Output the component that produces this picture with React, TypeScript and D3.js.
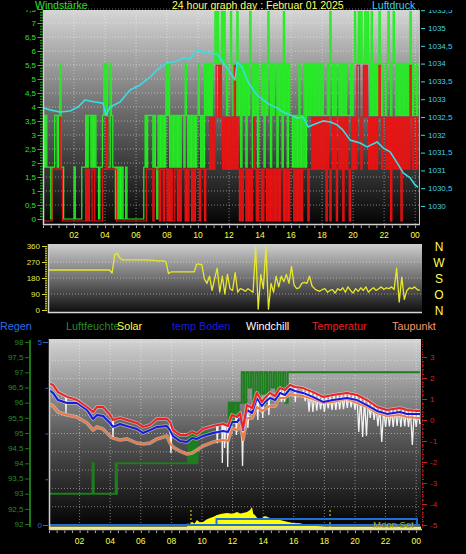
import React from "react";
import * as d3 from "d3";

// ================= DATA =================
// Wind (knots), 5-minute samples, one string of 12 samples per hour
const gustKnots: string[] = [
  "212111011221", "231100000000", "100000111212", "212121101123",
  "231132110101", "010010000000", "000000121222", "212102121213",
  "231212121212", "213212121212", "321213232323", "343432434323",
  "343232423132", "313243132313", "323132431323", "313231423132",
  "212121312131", "323232323232", "322232432323", "323232322232",
  "343343433434", "324232324323", "323432343232", "323232324323",
  "323",
];
const avgKnots: string[] = [
  "000000011111", "121000000000", "000000000101", "001100000011",
  "121111111000", "000000000000", "000000001111", "101111011011",
  "010100110101", "110101101011", "101110111212", "123323212121",
  "212131210101", "101010121010", "010110101010", "101011010101",
  "110101010111", "101121212121", "212021012120", "121202121012",
  "121332123232", "121212123212", "212120212121", "202121213212",
  "212",
];
const KNOT_TO_KMH = 1.852;
const WIND_STEP_H = 1 / 12;

// Pressure (hPa)
const pressTimes = [0.06, 0.45, 1.1, 1.74, 2.26, 2.71, 3.35, 3.87, 4.06, 4.32, 4.97, 5.61, 6.26, 6.9, 7.35, 8.0, 8.65, 9.03, 9.48, 9.94, 10.58, 11.23, 11.61, 12.06, 12.39, 12.52, 12.84, 13.16, 13.55, 13.81, 14.19, 14.65, 15.1, 15.48, 15.94, 16.39, 16.77, 17.1, 17.42, 18.06, 18.52, 18.97, 19.35, 19.81, 20.45, 20.9, 21.55, 21.94, 22.39, 22.84, 23.23, 23.68, 24.0, 24.19];
const pressValues = [1032.75, 1032.7, 1032.64, 1032.67, 1032.78, 1032.98, 1032.92, 1032.89, 1032.56, 1032.78, 1032.92, 1033.26, 1033.4, 1033.62, 1033.82, 1034.02, 1034.07, 1034.16, 1034.13, 1034.38, 1034.3, 1034.27, 1034.04, 1033.76, 1033.54, 1034.04, 1033.9, 1033.54, 1033.26, 1033.12, 1032.98, 1032.84, 1032.75, 1032.64, 1032.56, 1032.47, 1032.5, 1032.22, 1032.28, 1032.39, 1032.36, 1032.28, 1032.13, 1031.85, 1031.77, 1031.66, 1031.8, 1031.63, 1031.52, 1031.21, 1030.93, 1030.79, 1030.59, 1030.53];

// Wind direction (deg), 10-minute samples
const DIR_STEP_H = 1 / 6;
const windDirDeg = [
  225, 225, 225, 225, 225, 225,
  225, 225, 225, 225, 225, 225,
  225, 225, 225, 225, 225, 225,
  225, 225, 225, 225, 225, 225,
  225, 208, 310, 320, 292, 282,
  282, 282, 282, 282, 282, 282,
  282, 282, 282, 281, 281, 281,
  278, 276, 276, 276, 272, 205,
  214, 214, 214, 214, 214, 214,
  214, 214, 214, 214, 258, 258,
  255, 175, 150, 190, 110, 175,
  236, 100, 190, 90, 200, 120,
  110, 210, 100, 120, 115, 105,
  120, 110, 100, 355, 5, 200,
  120, 355, 5, 150, 100, 190,
  130, 190, 160, 200, 150, 245,
  140, 120, 125, 150, 155, 150,
  190, 135, 120, 110, 105, 115,
  120, 100, 110, 115, 95, 120,
  110, 125, 100, 130, 110, 95,
  120, 105, 125, 110, 130, 100,
  115, 125, 110, 120, 130, 115,
  125, 120, 130, 115, 235, 45,
  185, 60, 110, 125, 120, 130,
  115, 110,
];

// Temperatures (°C)
const tempTimes = [0, 0.26, 0.59, 1.18, 1.83, 2.48, 2.88, 3.14, 3.53, 3.99, 4.18, 4.64, 5.1, 5.75, 6.14, 6.6, 7.06, 7.71, 7.91, 8.1, 8.56, 9.02, 9.35, 9.67, 10.07, 10.72, 11.37, 11.7, 11.96, 12.29, 12.48, 12.68, 12.94, 13.27, 13.59, 13.92, 14.12, 14.44, 14.77, 15.1, 15.42, 15.75, 16.08, 16.6, 17.25, 17.91, 18.56, 19.48, 20.13, 20.78, 21.44, 22.09, 22.94, 23.4, 24.05, 24.25];
const tempValues = [1.76, 1.67, 1.33, 1.1, 0.95, 0.62, 0.38, 0.62, 0.62, 0.24, 0.0, 0.1, 0.0, -0.14, -0.33, -0.24, 0.05, 0.05, -0.1, -0.48, -0.71, -0.71, -0.57, -0.67, -0.43, -0.29, -0.19, -0.29, 0.24, 0.14, 0.33, -0.38, 0.71, 0.57, 1.29, 0.86, 1.05, 1.29, 1.14, 1.52, 1.43, 1.67, 1.57, 1.52, 1.33, 1.1, 1.19, 1.29, 1.19, 0.95, 0.62, 0.48, 0.57, 0.48, 0.43, 0.43];
const bodenValues = [1.43, 1.29, 0.95, 0.81, 0.81, 0.48, 0.05, 0.24, 0.19, -0.14, -0.33, -0.19, -0.29, -0.43, -0.62, -0.48, -0.33, -0.29, -0.48, -0.76, -1.0, -1.05, -0.86, -0.9, -0.76, -0.62, -0.52, -0.57, -0.1, -0.1, 0.1, -0.48, 0.48, 0.33, 1.05, 0.67, 0.86, 1.05, 0.95, 1.29, 1.19, 1.48, 1.38, 1.29, 1.1, 0.86, 0.95, 1.05, 0.95, 0.71, 0.43, 0.29, 0.38, 0.29, 0.29, 0.29];
const dewValues = [0.76, 0.67, 0.38, 0.24, 0.14, -0.14, -0.48, -0.33, -0.43, -0.76, -0.86, -0.95, -0.9, -1.1, -1.14, -1.1, -0.9, -0.76, -1.1, -1.29, -1.48, -1.62, -1.57, -1.43, -1.24, -1.05, -0.95, -1.0, -0.38, -0.48, -0.14, -0.95, 0.1, 0.1, 0.62, 0.43, 0.52, 0.67, 0.67, 1.05, 1.05, 1.24, 1.19, 1.14, 1.0, 0.81, 0.86, 1.0, 0.81, 0.62, 0.33, 0.19, 0.24, 0.14, 0.1, 0.1];

// Windchill (°C)
const chillTimes = [0, 0.26, 0.59, 1.08, 1.11, 1.15, 1.83, 2.48, 2.88, 3.14, 3.53, 3.99, 4.15, 4.18, 4.22, 4.64, 5.1, 5.75, 6.14, 6.6, 7.06, 7.71, 7.91, 7.97, 8.03, 8.1, 8.56, 9.02, 9.35, 9.67, 10.07, 10.72, 10.95, 11.0, 11.05, 11.3, 11.33, 11.37, 11.45, 11.48, 11.55, 11.65, 11.68, 11.72, 11.96, 12.2, 12.25, 12.3, 12.48, 12.6, 12.65, 12.7, 12.94, 13.0, 13.1, 13.27, 13.59, 13.65, 13.7, 13.92, 13.97, 14.02, 14.12, 14.33, 14.37, 14.44, 14.77, 15.1, 15.2, 15.3, 15.4, 15.5, 15.75, 16.05, 16.1, 16.15, 16.6,
  16.75, 16.875, 17.0, 17.125, 17.25, 17.375, 17.5, 17.625, 17.75, 17.875, 18.0, 18.125, 18.25, 18.375, 18.5, 18.625, 18.75, 18.875, 19.0, 19.125, 19.25, 19.375, 19.5, 19.625, 19.75, 19.875, 20.0, 20.125, 20.25, 20.375, 20.5, 20.625, 20.75, 20.875, 21.0, 21.125, 21.25, 21.375, 21.5, 21.625, 21.75, 21.875, 22.0, 22.125, 22.25, 22.375, 22.5, 22.625, 22.75, 22.875, 23.0, 23.125, 23.25, 23.375, 23.5, 23.625, 23.75, 23.875, 24.0, 24.125, 24.25];
const chillValues = [1.76, 1.67, 1.33, 1.13, 0.33, 1.1, 0.95, 0.62, 0.38, 0.62, 0.62, 0.24, 0.02, -0.86, 0.0, 0.1, 0.0, -0.14, -0.33, -0.24, 0.05, 0.05, -0.1, -1.57, -0.35, -0.48, -0.71, -0.71, -0.57, -0.67, -0.43, -0.29, -0.26, -1.1, -0.24, -0.2, -2.05, -0.19, -0.22, -1.33, -0.25, -0.28, -2.24, -0.29, 0.24, 0.16, -0.71, 0.15, 0.33, -0.2, -2.19, -0.38, 0.71, -0.38, 0.62, 0.57, 1.29, 0.0, 1.15, 0.86, 0.1, 0.9, 1.05, 1.25, 0.24, 1.29, 1.14, 1.52, 0.86, 1.48, 0.86, 1.45, 1.67, 1.57, 0.86, 1.57, 1.52,
  0.9, 1.5, 0.4, 1.42, 0.38, 1.3, 0.45, 1.22, 0.5, 1.12, 0.38, 1.12, 0.55, 1.15, 0.48, 1.2, 0.48, 1.22, 0.5, 1.25, 0.52, 1.28, 0.57, 1.28, 0.6, 1.24, 0.48, 1.19, -0.57, 1.12, -0.81, 1.02, -0.75, 0.92, 0.1, 0.8, 0.0, 0.66, -0.3, 0.6, -1.05, 0.52, -0.33, 0.48, -0.3, 0.5, -0.33, 0.54, -0.28, 0.57, -0.33, 0.52, -0.3, 0.48, -0.33, 0.46, -1.19, 0.44, -0.33, 0.43, -0.2];

// Humidity (%)
const humTimes = [0, 2.85, 2.92, 4.36, 4.4, 4.44, 4.48, 9.1, 9.2, 9.3, 9.4, 9.5, 9.6, 9.7, 11.75, 11.85, 11.95, 12.05, 12.15, 12.3, 12.4, 12.6, 12.75, 12.9, 13.05, 13.2, 13.35, 13.5, 13.65, 13.8, 13.95, 14.1, 14.25, 14.4, 14.55, 14.7, 14.85, 15.0, 15.15, 15.3, 15.45, 15.6, 24.25];
const humValues = [93, 94, 93, 94, 93, 94, 94, 95, 94, 95, 94, 95, 94, 95, 96, 95.3, 96, 95.5, 96, 95.2, 96, 97, 96, 97, 96.5, 97, 96, 97, 96, 97, 96.3, 97, 96, 97, 96.5, 97, 96, 97, 96.5, 97, 96, 97, 97];

// Solar (W/m²)
const solarTimes = [9.0, 9.08, 9.2, 9.35, 9.5, 9.67, 9.85, 10.07, 10.3, 10.52, 10.72, 10.98, 11.3, 11.63, 12.0, 12.29, 12.5, 12.68, 12.94, 13.14, 13.27, 13.35, 13.46, 13.66, 13.92, 14.12, 14.44, 15.1, 15.5, 15.95, 16.4, 16.86, 17.5, 18.17, 18.7, 19.3];
const solarValues = [0, 32, 20, 38, 28, 47, 35, 37, 50, 58, 63, 74, 80, 84, 80, 89, 82, 84, 90, 100, 116, 80, 74, 53, 58, 68, 58, 47, 40, 32, 30, 21, 16, 10, 5, 0];

// Rain (mm) and moon
const rainTimes = [0, 24.25];
const rainValues = [0, 0];
const moonTimes = [0, 10.95, 24.05, 24.25];
const moonUp = [0, 1, 0, 0];
const sunEvents = [9.28, 18.37];

// Ticks / labels
const windTicks = [0, 0.5, 1, 1.5, 2, 2.5, 3, 3.5, 4, 4.5, 5, 5.5, 6, 6.5, 7, 7.5];
const pressTicks = [1030, 1030.5, 1031, 1031.5, 1032, 1032.5, 1033, 1033.5, 1034, 1034.5, 1035, 1035.5];
const dirTicks = [0, 90, 180, 270, 360];
const dirLetters = ["N", "O", "S", "W", "N"];
const humTicks = [92, 92.5, 93, 93.5, 94, 94.5, 95, 95.5, 96, 96.5, 97, 97.5, 98];
const rainTicks = [0, 1.25, 2.5, 3.75, 5];
const rainLabels = ["0", "", "", "", "5"];
const tempTicks = [-5, -4, -3, -2, -1, 0, 1, 2, 3];
const hourTicks = [2, 4, 6, 8, 10, 12, 14, 16, 18, 20, 22, 24];
const hourLabels = ["02", "04", "06", "08", "10", "12", "14", "16", "18", "20", "22", "00"];
const legendLabels = ["Regen", "Luftfeuchte", "Solar", "temp Boden", "Windchill", "Temperatur", "Taupunkt"];
const titleText = "24 hour graph day : Februar 01 2025";

// ================= STYLE =================
const FONT = "'Liberation Sans', Arial, Helvetica, sans-serif";
const legendStyle = [
  { x: 0, color: "#2a6ee0" },
  { x: 66, color: "#2a8a2a" },
  { x: 117, color: "#ffff44" },
  { x: 172, color: "#1c1cd8" },
  { x: 246, color: "#ffffff" },
  { x: 312, color: "#e82020" },
  { x: 392, color: "#f49868" },
];
const fmt = (v: number) => String(v).replace(".", ",");
const GRID = { stroke: "#ffffff", strokeOpacity: 0.45, strokeDasharray: "1,2", strokeWidth: 1 };

export default function App() {
  // ---------- top chart ----------
  const xT = d3.scaleLinear().domain([0, 24.25]).range([43, 419]);
  const yW = d3.scaleLinear().domain([0, 7.5]).range([219, 9]);
  const yP = d3.scaleLinear().domain([1030, 1035.5]).range([206, 10.2]);
  const gust = gustKnots.join("").split("").map(Number);
  const avg = avgKnots.join("").split("").map(Number);
  const windLine = d3
    .line<number>()
    .x((_, i) => xT(i * WIND_STEP_H))
    .y((v) => yW(v * KNOT_TO_KMH))
    .curve(d3.curveStepAfter);
  const pressLine = d3
    .line<number>()
    .x((_, i) => xT(pressTimes[i]))
    .y((v) => yP(v));

  // ---------- direction chart ----------
  const xD = d3.scaleLinear().domain([0, 24.25]).range([48, 421]);
  const yD = d3.scaleLinear().domain([0, 360]).range([310, 246]);
  const dirLine = d3
    .line<number>()
    .x((_, i) => xD(i * DIR_STEP_H))
    .y((v) => yD(v));

  // ---------- bottom chart ----------
  const xB = d3.scaleLinear().domain([0, 24.25]).range([49, 420]);
  const yT = d3.scaleLinear().domain([-5, 3]).range([525, 357]);
  const yH = d3.scaleLinear().domain([92, 98]).range([524, 342]);
  const yR = d3.scaleLinear().domain([0, 5]).range([525, 342]);
  const yS = d3.scaleLinear().domain([0, 1000]).range([529, 339]);
  const yM = d3.scaleLinear().domain([0, 1]).range([525, 519]);

  const tLine = (times: number[]) =>
    d3
      .line<number>()
      .x((_, i) => xB(times[i]))
      .y((v) => yT(v));
  const humLine = d3
    .line<number>()
    .x((_, i) => xB(humTimes[i]))
    .y((v) => yH(v))
    .curve(d3.curveStepAfter);
  const solarArea = d3
    .area<number>()
    .x((_, i) => xB(solarTimes[i]))
    .y0(yS(0))
    .y1((v) => yS(v));
  const rainLine = d3
    .line<number>()
    .x((_, i) => xB(rainTimes[i]))
    .y((v) => yR(v));
  const moonLine = d3
    .line<number>()
    .x((_, i) => xB(moonTimes[i]))
    .y((v) => yM(v))
    .curve(d3.curveStepAfter);

  const halo = (d: string | null, color: string, w: number, key: string) => (
    <g key={key}>
      <path d={d || ""} fill="none" stroke="#ffffff" strokeOpacity={0.45} strokeWidth={w + 1.6} strokeLinejoin="round" />
      <path d={d || ""} fill="none" stroke={color} strokeWidth={w} strokeLinejoin="round" />
    </g>
  );

  return (
    <svg
      width={466}
      height={554}
      viewBox="0 0 466 554"
      style={{ position: "absolute", left: 0, top: 0, background: "#000", fontFamily: FONT }}
    >
      <defs>
        <linearGradient id="gTop" x1="0" y1="0" x2="0" y2="1">
          <stop offset="0" stopColor="#d6d6d6" />
          <stop offset="0.5" stopColor="#666" />
          <stop offset="1" stopColor="#050505" />
        </linearGradient>
        <linearGradient id="gDir" x1="0" y1="0" x2="0" y2="1">
          <stop offset="0" stopColor="#cfcfcf" />
          <stop offset="1" stopColor="#0c0c0c" />
        </linearGradient>
        <linearGradient id="gBot" x1="0" y1="0" x2="0" y2="1">
          <stop offset="0" stopColor="#d4d4d4" />
          <stop offset="0.5" stopColor="#5a5a5a" />
          <stop offset="1" stopColor="#000" />
        </linearGradient>
        <clipPath id="cTop">
          <rect x={43} y={10} width={376} height={214} />
        </clipPath>
        <clipPath id="cLbl">
          <rect x={0} y={10} width={466} height={230} />
        </clipPath>
        <clipPath id="cDir">
          <rect x={48} y={244} width={374} height={69} />
        </clipPath>
        <clipPath id="cBot">
          <rect x={49} y={339} width={372} height={190} />
        </clipPath>
      </defs>

      {/* ================= TOP CHART ================= */}
      <rect x={43} y={10} width={376} height={214} fill="url(#gTop)" />
      <g {...GRID}>
        {windTicks.slice(1).map((v) => (
          <line key={"wg" + v} x1={43} x2={419} y1={yW(v)} y2={yW(v)} />
        ))}
        {hourTicks.map((h) => (
          <line key={"tg" + h} x1={xT(h)} x2={xT(h)} y1={10} y2={224} />
        ))}
      </g>
      <g clipPath="url(#cTop)">
        <path d={windLine(gust) || ""} fill="none" stroke="#22ee22" strokeWidth={1.2} />
        <path d={windLine(avg) || ""} fill="none" stroke="#ee1111" strokeWidth={1.2} transform="translate(0,2)" />
        <path d={pressLine(pressValues) || ""} fill="none" stroke="#38dde6" strokeWidth={1.6} strokeLinejoin="round" />
      </g>
      {/* frame */}
      <line x1={43.5} x2={43.5} y1={10} y2={225} stroke="#d0d0d0" strokeWidth={1.5} />
      <line x1={43} x2={420} y1={224.5} y2={224.5} stroke="#d0d0d0" strokeWidth={1.5} />
      <line x1={419.5} x2={419.5} y1={10} y2={225} stroke="#bdbdbd" strokeWidth={1} />
      {/* left wind axis */}
      <g stroke="#22cc22" strokeWidth={1}>
        {yW.ticks(75).map((v) => (
          <line key={"wm" + v} x1={40} x2={42.5} y1={yW(v) + 0.5} y2={yW(v) + 0.5} />
        ))}
        {windTicks.map((v) => (
          <line key={"wM" + v} x1={37.5} x2={42.5} y1={yW(v) + 0.5} y2={yW(v) + 0.5} />
        ))}
      </g>
      <g clipPath="url(#cLbl)" fontSize={8} fill="#2ee02e" textAnchor="end">
        {windTicks.map((v) => (
          <text key={"wl" + v} x={36} y={yW(v)} dy="0.35em">
            {fmt(v)}
          </text>
        ))}
      </g>
      {/* right pressure axis */}
      <g stroke="#40d8e0" strokeWidth={1}>
        {pressTicks.map((v) => (
          <line key={"pM" + v} x1={421} x2={425} y1={yP(v) + 0.5} y2={yP(v) + 0.5} />
        ))}
      </g>
      <g clipPath="url(#cLbl)" fontSize={8} fill="#40d0e0">
        {pressTicks.map((v) => (
          <text key={"pl" + v} x={428} y={yP(v)} dy="0.35em">
            {fmt(v)}
          </text>
        ))}
      </g>
      {/* x axis */}
      <g stroke="#b0b0b0" strokeWidth={1}>
        {xT.ticks(48).filter((h) => h <= 24).map((h) => (
          <line key={"xt" + h} x1={xT(h) + 0.5} x2={xT(h) + 0.5} y1={225.5} y2={228} />
        ))}
      </g>
      <g fontSize={8.5} fill="#ffff44" textAnchor="middle">
        {hourTicks.map((h, i) => (
          <text key={"xl" + h} x={xT(h)} y={238}>
            {hourLabels[i]}
          </text>
        ))}
      </g>
      {/* titles */}
      <g fontSize={10.5}>
        <text x={35} y={9} fill="#2ee02e">Windstärke</text>
        <text x={172} y={9} fill="#ffff66">{titleText}</text>
        <text x={372} y={9} fill="#40d0e0">Luftdruck</text>
      </g>

      {/* ================= WIND DIRECTION ================= */}
      <rect x={48} y={244} width={374} height={69} fill="url(#gDir)" />
      <g {...GRID}>
        {dirTicks.slice(1, 4).map((v) => (
          <line key={"dg" + v} x1={48} x2={422} y1={yD(v)} y2={yD(v)} />
        ))}
      </g>
      <g clipPath="url(#cDir)">
        <path d={dirLine(windDirDeg) || ""} fill="none" stroke="#e8e82a" strokeWidth={1.3} strokeLinejoin="round" />
      </g>
      <line x1={48.5} x2={48.5} y1={244} y2={313} stroke="#d0d0d0" strokeWidth={1.5} />
      <line x1={48} x2={422} y1={312.5} y2={312.5} stroke="#d8d8d8" strokeWidth={1.5} />
      <g stroke="#d8d830" strokeWidth={1}>
        {yD.ticks(36).map((v) => (
          <line key={"dm" + v} x1={45} x2={47} y1={yD(v) + 0.5} y2={yD(v) + 0.5} />
        ))}
        {dirTicks.map((v) => (
          <line key={"dM" + v} x1={42} x2={47} y1={yD(v) + 0.5} y2={yD(v) + 0.5} />
        ))}
      </g>
      <g fontSize={8} fill="#e8e84a" textAnchor="end">
        {dirTicks.map((v) => (
          <text key={"dl" + v} x={40} y={yD(v)} dy="0.35em">
            {v}
          </text>
        ))}
      </g>
      <g fontSize={12} fill="#ffff55" textAnchor="middle">
        {dirTicks.map((v, i) => (
          <text key={"dn" + v} x={439} y={yD(v)} dy="0.38em">
            {dirLetters[i]}
          </text>
        ))}
      </g>

      {/* ================= LEGEND ================= */}
      <g fontSize={10.8}>
        {legendLabels.map((l, i) => (
          <text key={l} x={legendStyle[i].x} y={330} fill={legendStyle[i].color}>
            {l}
          </text>
        ))}
      </g>

      {/* ================= BOTTOM CHART ================= */}
      <rect x={49} y={339} width={372} height={190} fill="url(#gBot)" />
      <g {...GRID}>
        {[0.5, 1, 1.5, 2, 2.5, 3, 3.5, 4, 4.5, 5].map((v) => (
          <line key={"bg" + v} x1={49} x2={421} y1={yR(v)} y2={yR(v)} />
        ))}
        {hourTicks.map((h) => (
          <line key={"bgx" + h} x1={xB(h)} x2={xB(h)} y1={339} y2={529} />
        ))}
      </g>
      <g clipPath="url(#cBot)">
        <path d={solarArea(solarValues) || ""} fill="#ffff00" />
        <line x1={49} x2={421} y1={527.8} y2={527.8} stroke="#eeee80" strokeWidth={2.4} />
        {sunEvents.map((t) => (
          <line key={"sun" + t} x1={xB(t)} x2={xB(t)} y1={510} y2={527} stroke="#e8e800" strokeWidth={1} strokeDasharray="2,2" />
        ))}
        <path d={rainLine(rainValues) || ""} fill="none" stroke="#1f6fd8" strokeWidth={2} />
        <path d={moonLine(moonUp) || ""} fill="none" stroke="#1f6fd8" strokeWidth={2} />
        <path d={humLine(humValues) || ""} fill="none" stroke="#1e7d1e" strokeWidth={2} />
        <path d={tLine(chillTimes)(chillValues) || ""} fill="none" stroke="#f2f2f2" strokeWidth={1.3} />
        {halo(tLine(tempTimes)(dewValues), "#f07a45", 2, "dew")}
        {halo(tLine(tempTimes)(bodenValues), "#1818e0", 2, "boden")}
        {halo(tLine(tempTimes)(tempValues), "#f02020", 2, "temp")}
        <text x={373} y={527.5} fontSize={9.5} fill="#b4b000">Moon Set</text>
      </g>
      {/* frame */}
      <line x1={49.5} x2={49.5} y1={339} y2={530} stroke="#d0d0d0" strokeWidth={1.5} />
      <line x1={49} x2={422} y1={529.5} y2={529.5} stroke="#d0d0d0" strokeWidth={1.5} />
      {/* humidity axis */}
      <line x1={30} x2={30} y1={340} y2={527} stroke="#1a7a1a" strokeWidth={2} />
      <g stroke="#1a7a1a" strokeWidth={1}>
        {humTicks.map((v) => (
          <line key={"hM" + v} x1={25} x2={30} y1={yH(v) + 0.5} y2={yH(v) + 0.5} />
        ))}
      </g>
      <g fontSize={8} fill="#2a8a2a" textAnchor="end">
        {humTicks.map((v) => (
          <text key={"hl" + v} x={23.5} y={yH(v)} dy="0.35em">
            {fmt(v)}
          </text>
        ))}
      </g>
      {/* rain axis */}
      <g stroke="#2a6ed0" strokeWidth={1}>
        {rainTicks.map((v, i) => (
          <line key={"rM" + v} x1={rainLabels[i] ? 43 : 45.5} x2={48} y1={yR(v) + 0.5} y2={yR(v) + 0.5} />
        ))}
      </g>
      <g fontSize={8} fill="#2a6ed0" textAnchor="end">
        {rainTicks.map((v, i) => (
          <text key={"rl" + v} x={42} y={yR(v)} dy="0.35em">
            {rainLabels[i]}
          </text>
        ))}
      </g>
      {/* temperature axis */}
      <line x1={422.5} x2={422.5} y1={339} y2={529} stroke="#d02020" strokeWidth={1} strokeDasharray="1,1.5" />
      <g stroke="#d02020" strokeWidth={1}>
        {yT.ticks(40).map((v) => (
          <line key={"tm" + v} x1={422} x2={424} y1={yT(v) + 0.5} y2={yT(v) + 0.5} />
        ))}
        {tempTicks.map((v) => (
          <line key={"tM" + v} x1={422} x2={427} y1={yT(v) + 0.5} y2={yT(v) + 0.5} />
        ))}
      </g>
      <g fontSize={8} fill="#d82020">
        {tempTicks.map((v) => (
          <text key={"tl" + v} x={430} y={yT(v)} dy="0.35em">
            {v}
          </text>
        ))}
      </g>
      {/* bottom x axis */}
      <g stroke="#b0b0b0" strokeWidth={1}>
        {xB.ticks(48).filter((h) => h <= 24).map((h) => (
          <line key={"bxt" + h} x1={xB(h) + 0.5} x2={xB(h) + 0.5} y1={530.5} y2={533} />
        ))}
      </g>
      <g fontSize={8.5} fill="#ffff44" textAnchor="middle">
        {hourTicks.map((h, i) => (
          <text key={"bxl" + h} x={xB(h)} y={544}>
            {hourLabels[i]}
          </text>
        ))}
      </g>
    </svg>
  );
}
